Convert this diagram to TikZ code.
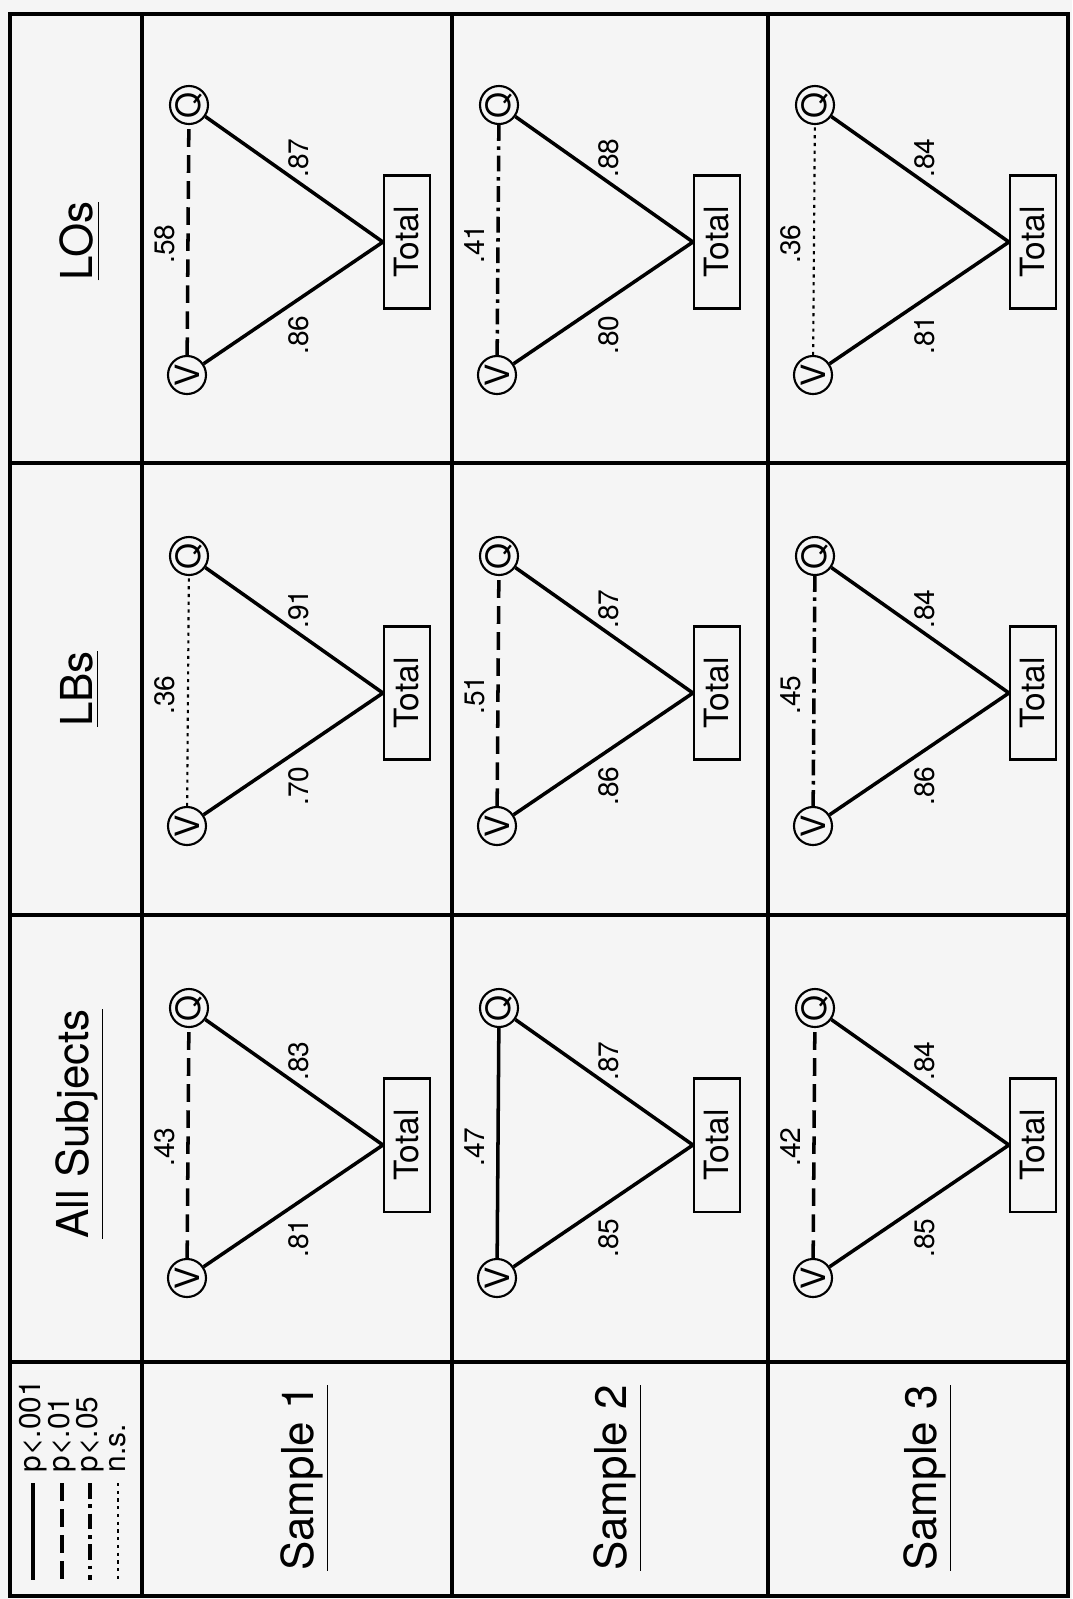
\documentclass[tikz,border=0pt]{standalone}
\usepackage{fontspec}
\setmainfont{TeX Gyre Heros}
\usetikzlibrary{positioning}

\tikzset{
  grid line/.style={line width=1.2pt},
  var/.style={draw, circle, line width=0.6pt, inner sep=0pt, minimum size=0.38cm, rotate=90, font=\fontsize{9.5}{10}\selectfont},
  totalbox/.style={draw, line width=0.6pt, rotate=90, inner sep=0pt, minimum width=1.33cm, minimum height=0.46cm, font=\fontsize{9.5}{10}\selectfont},
  coef/.style={rotate=90, inner sep=0pt, font=\fontsize{8}{9}\selectfont},
  head/.style={rotate=90, font=\fontsize{12.5}{14}\selectfont},
  legtext/.style={rotate=90, inner sep=0pt, font=\fontsize{8.5}{9}\selectfont},
  sig001/.style={line width=1pt},
  sig01/.style={line width=1pt, dash pattern=on 5pt off 2.4pt},
  sig05/.style={line width=1pt, dash pattern=on 4.5pt off 1.6pt on 1pt off 1.6pt},
  signs/.style={line width=0.6pt, dash pattern=on 0.9pt off 1.3pt}
}

\begin{document}
\begin{tikzpicture}[x=0.01cm, y=-0.01cm]
\fill[black!4] (0,0) rectangle (1072,1599);
\useasboundingbox (0,0) rectangle (1072,1599);

% table
\draw[grid line] (10,14) rectangle (1068,1596);
\foreach \x in {142,452,768}{
  \draw[grid line] (\x,14) -- (\x,1596);
}
\foreach \y in {463,915,1362}{
  \draw[grid line] (10,\y) -- (1068,\y);
}

% headings
\node[head] (los) at (80,241) {\underline{LOs}};
\node[head] (lbs) at (80,689) {\underline{LBs}};
\node[head] (all) at (80,1124) {\underline{All Subjects}};
\node[head] (sample1) at (305,1478) {\underline{Sample 1}};
\node[head] (sample2) at (618,1478) {\underline{Sample 2}};
\node[head] (sample3) at (928,1478) {\underline{Sample 3}};

% legend
\foreach \x/\s/\t [count=\i] in {33/sig001/p<.001, 62/sig01/p<.01, 90/sig05/p<.05, 118/signs/n.s.}{
  \coordinate (leg\i a) at (\x,1483);
  \coordinate (leg\i b) at (\x,1580);
  \draw[\s] (leg\i a) -- (leg\i b);
  \node[legtext, anchor=west] (leg\i) at (\x,1473) {\t};
}

% one triangle per cell
\foreach \cx/\cy/\n/\s/\vq/\qt/\vt in {
  142/12/a/sig01/.58/.87/.86,
  452/12/b/sig05/.41/.88/.80,
  768/12/c/signs/.36/.84/.81,
  142/463/d/signs/.36/.91/.70,
  452/463/e/sig01/.51/.87/.86,
  768/463/f/sig05/.45/.84/.86,
  142/915/g/sig01/.43/.83/.81,
  452/915/h/sig001/.47/.87/.85,
  768/915/i/sig01/.42/.84/.85}{
  \node[var] (Q\n) at (\cx+47,\cy+93) {Q};
  \node[var] (V\n) at (\cx+45,\cy+363) {V};
  \node[totalbox] (T\n) at (\cx+265,\cy+230) {Total};
  \draw[\s] (V\n) -- (Q\n);
  \draw[sig001] (V\n) -- (T\n.north);
  \draw[sig001] (Q\n) -- (T\n.north);
  \node[coef] (vq\n) at (\cx+23,\cy+232) {\vq};
  \node[coef] (qt\n) at (\cx+157,\cy+146) {\qt};
  \node[coef] (vt\n) at (\cx+157,\cy+323) {\vt};
}
\end{tikzpicture}
\end{document}
